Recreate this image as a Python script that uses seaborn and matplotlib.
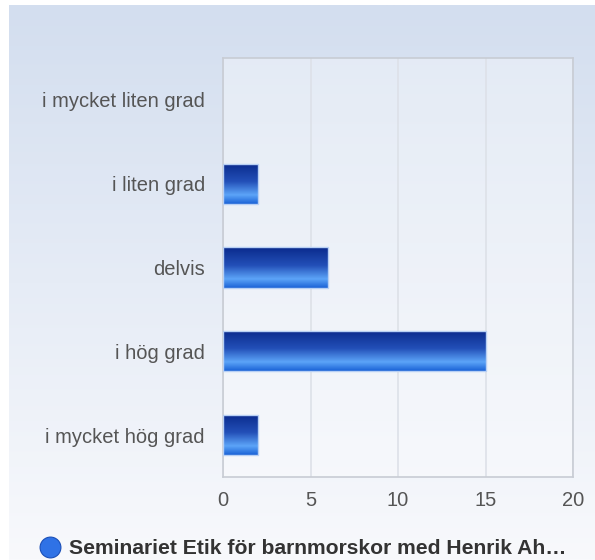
import numpy as np
import pandas as pd
import matplotlib.pyplot as plt
import seaborn as sns
from matplotlib.colors import LinearSegmentedColormap
from matplotlib.lines import Line2D

categories = ['i mycket liten grad', 'i liten grad', 'delvis', 'i hög grad', 'i mycket hög grad']
answers = [0, 2, 6, 15, 2]
series_name = 'Seminariet Etik för barnmorskor med Henrik Ah…'
x_ticks = [0, 5, 10, 15, 20]

df = pd.DataFrame({'svar': categories, 'antal': answers})

sns.set_style('white')
plt.rcParams['font.family'] = ['Liberation Sans', 'DejaVu Sans']

W, H = 595, 560
fig = plt.figure(figsize=(W / 100, H / 100), dpi=100)
fig.patch.set_facecolor('white')

# background panel with vertical gradient
bg = fig.add_axes([9 / W, 0, 1 - 9 / W, 1 - 5 / H], zorder=-5)
bg_cmap = LinearSegmentedColormap.from_list('bg', ['#d3deef', '#e6ecf6', '#f8f9fc'])
bg.imshow(np.linspace(0, 1, 256).reshape(-1, 1), aspect='auto', cmap=bg_cmap,
          extent=[0, 1, 0, 1], origin='upper')
bg.axis('off')

ax = fig.add_axes([223 / W, 1 - 477 / H, 350 / W, 419 / H])
ax.set_facecolor((1, 1, 1, 0.35))
sns.barplot(data=df, x='antal', y='svar', orient='h', ax=ax, width=0.48,
            color='#2a6ad8', zorder=3)

bar_cmap = LinearSegmentedColormap.from_list(
    'bar', [(0, '#0a2a8c'), (0.45, '#2350b8'), (0.78, '#5ca4f8'), (1, '#1a62d6')])
grad = np.linspace(0, 1, 128).reshape(-1, 1)
for p in ax.patches:
    w = p.get_width()
    if w <= 0:
        p.set_visible(False)
        continue
    y0 = p.get_y()
    h = p.get_height()
    im = ax.imshow(grad, aspect='auto', cmap=bar_cmap, zorder=4,
                   extent=[0, w, y0 + h, y0], origin='upper')
    im.set_clip_path(p)
    p.set_facecolor('none')
    p.set_edgecolor('#b8d0f4')
    p.set_linewidth(1.0)
    p.set_zorder(5)

ax.set_xlim(0, 20)
ax.set_ylim(4.5, -0.5)
ax.set_xticks(x_ticks)
ax.xaxis.grid(True, color='#dde1e8', linewidth=1.2, zorder=0)
ax.set_axisbelow(True)
for s in ax.spines.values():
    s.set_color('#c8ccd4')
    s.set_linewidth(1.2)
ax.tick_params(axis='both', length=0, labelsize=14.5, labelcolor='#555555')
ax.tick_params(axis='y', pad=13)
ax.tick_params(axis='x', pad=10)
ax.set_xlabel('')
ax.set_ylabel('')

handle = Line2D([], [], marker='o', linestyle='none', markersize=15,
                markerfacecolor='#2f72e6', markeredgecolor='#1a4fb8', markeredgewidth=0.8)
leg = fig.legend([handle], [series_name], loc='center', bbox_to_anchor=(303 / W, 1 - 549 / H),
                 frameon=False, handletextpad=0.4, handlelength=1.0,
                 prop={'size': 15.2, 'weight': 'bold'})
for t in leg.get_texts():
    t.set_color('#333333')

plt.savefig('out.png', dpi=100)
